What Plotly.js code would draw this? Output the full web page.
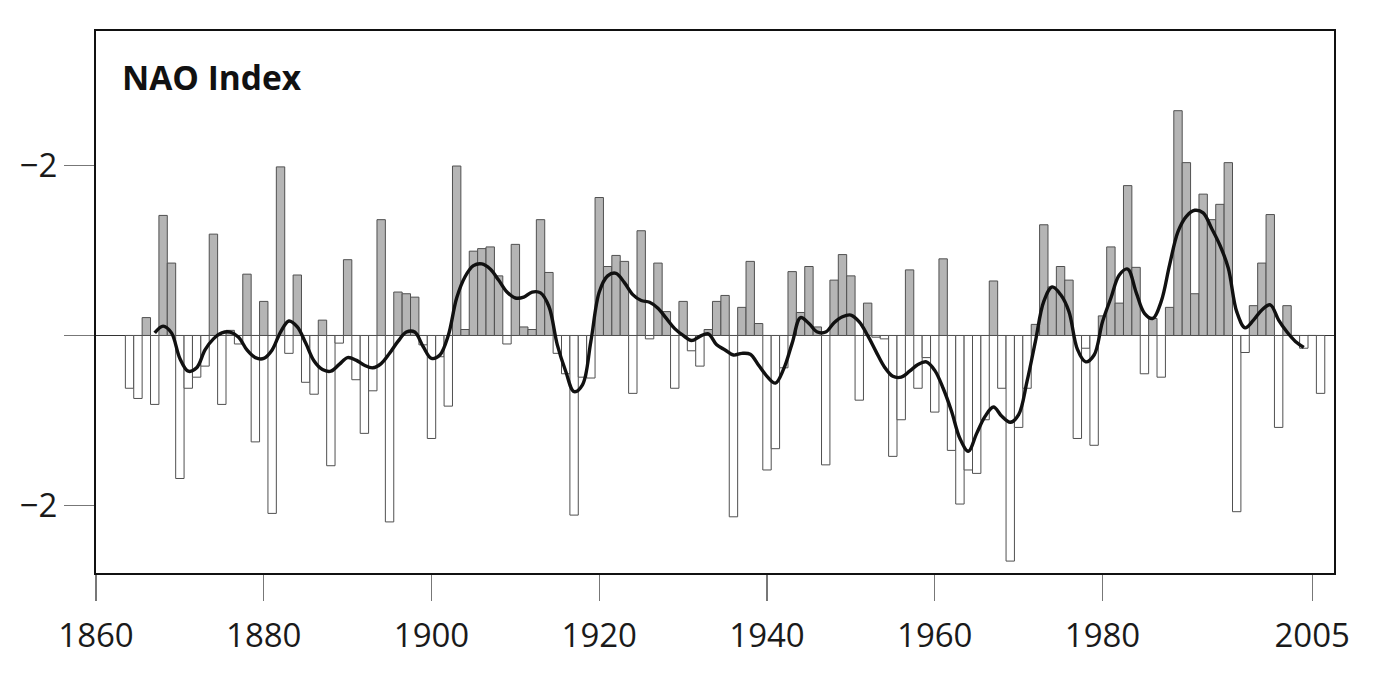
<!DOCTYPE html>
<html>
<head>
<meta charset="utf-8">
<script src="https://cdn.plot.ly/plotly-3.0.1.min.js"></script>
<style>
  html, body { margin: 0; padding: 0; background: #fff; }
  #chart { width: 1376px; height: 678px; }
</style>
</head>
<body>
<div id="chart"></div>
<script>
// Winter NAO index, one bar per year from FIRST_YEAR
const FIRST_YEAR = 1864;
const naoValues = [
  -0.62, -0.74, 0.21, -0.81, 1.41, 0.85, -1.68, -0.62, -0.49, -0.36,   // 1864-1873
  1.19, -0.81, 0.06, -0.10, 0.72, -1.25, 0.40, -2.09, 1.98, -0.21,     // 1874-1883
  0.71, -0.55, -0.69, 0.18, -1.53, -0.09, 0.89, -0.52, -1.15, -0.65,   // 1884-1893
  1.36, -2.19, 0.51, 0.49, 0.45, -0.11, -1.21, -0.25, -0.83, 1.99,     // 1894-1903
  0.07, 0.99, 1.02, 1.04, 0.70, -0.10, 1.07, 0.10, 0.07, 1.36,         // 1904-1913
  0.74, -0.21, -0.45, -2.11, -0.49, -0.50, 1.62, 0.81, 0.94, 0.87,     // 1914-1923
  -0.68, 1.23, -0.04, 0.85, 0.28, -0.62, 0.40, -0.18, -0.36, 0.07,     // 1924-1933
  0.40, 0.47, -2.13, 0.33, 0.87, 0.14, -1.58, -1.33, -0.38, 0.75,      // 1934-1943
  0.27, 0.81, 0.10, -1.52, 0.65, 0.95, 0.70, -0.76, 0.38, -0.02,       // 1944-1953
  -0.04, -1.42, -0.99, 0.77, -0.62, -0.26, -0.90, 0.90, -1.35, -1.98,  // 1954-1963
  -1.58, -1.62, -0.99, 0.64, -0.62, -2.65, -1.08, -0.62, 0.13, 1.30,   // 1964-1973
  0.57, 0.81, 0.65, -1.21, -0.15, -1.29, 0.23, 1.04, 0.38, 1.76,       // 1974-1983
  0.80, -0.45, 0.20, -0.49, 0.33, 2.64, 2.03, 0.49, 1.66, 1.36,        // 1984-1993
  1.54, 2.03, -2.07, -0.20, 0.35, 0.85, 1.42, -1.08, 0.35, 0.00,       // 1994-2003
  -0.15, 0.00, -0.68                                                   // 2004-2006
];
const naoYears = naoValues.map((_, i) => FIRST_YEAR + i);

// Low-pass filtered curve, one point per year from SMOOTH_FIRST_YEAR
const SMOOTH_FIRST_YEAR = 1867;
const smoothValues = [
  0.03, 0.11, 0.03, -0.27, -0.42, -0.38, -0.17, -0.04, 0.03, 0.04,     // 1867-1876
  -0.02, -0.17, -0.26, -0.27, -0.17, 0.04, 0.17, 0.10, -0.09, -0.30,   // 1877-1886
  -0.40, -0.42, -0.34, -0.26, -0.29, -0.35, -0.38, -0.33, -0.21, -0.07,// 1887-1896
  0.04, 0.04, -0.13, -0.27, -0.23, 0.00, 0.44, 0.69, 0.82, 0.84,       // 1897-1906
  0.78, 0.65, 0.51, 0.44, 0.45, 0.51, 0.50, 0.34, -0.11, -0.42,        // 1907-1916
  -0.66, -0.58, -0.07, 0.51, 0.70, 0.73, 0.62, 0.48, 0.41, 0.39,       // 1917-1926
  0.32, 0.20, 0.08, 0.00, -0.06, -0.01, 0.02, -0.11, -0.17, -0.23,     // 1927-1936
  -0.21, -0.22, -0.35, -0.48, -0.56, -0.39, -0.09, 0.21, 0.14, 0.04,   // 1937-1946
  0.04, 0.15, 0.22, 0.24, 0.16, 0.00, -0.19, -0.37, -0.48, -0.49,      // 1947-1956
  -0.42, -0.34, -0.31, -0.41, -0.62, -0.89, -1.21, -1.36, -1.15, -0.95,// 1957-1966
  -0.84, -0.95, -1.02, -0.93, -0.54, -0.07, 0.40, 0.57, 0.48, 0.28,    // 1967-1976
  -0.16, -0.31, -0.23, 0.16, 0.44, 0.71, 0.78, 0.51, 0.26, 0.20,       // 1977-1986
  0.40, 0.83, 1.22, 1.40, 1.47, 1.44, 1.26, 1.06, 0.79, 0.28,          // 1987-1996
  0.09, 0.18, 0.30, 0.36, 0.18, 0.04, -0.07, -0.14                     // 1997-2004
];
const smoothYears = smoothValues.map((_, i) => SMOOTH_FIRST_YEAR + i);

const xTickVals = [1860, 1880, 1900, 1920, 1940, 1960, 1980, 2005];
const xTickText = ['1860', '1880', '1900', '1920', '1940', '1960', '1980', '2005'];
const yTickVals = [-2, 0, 2];
const yTickText = ['\u22122', '', '\u22122'];
const chartTitle = 'NAO Index';

const barColors = naoValues.map(v => v >= 0 ? '#b5b5b5' : '#ffffff');

const traces = [
  {
    type: 'bar',
    x: naoYears,
    y: naoValues,
    width: 1,
    marker: { color: barColors, line: { color: '#505050', width: 1 } },
    hoverinfo: 'skip',
    showlegend: false
  },
  {
    type: 'scatter',
    mode: 'lines',
    x: smoothYears,
    y: smoothValues,
    line: { color: '#111111', width: 3.4, shape: 'spline', smoothing: 1.0 },
    hoverinfo: 'skip',
    showlegend: false
  }
];

const tickFont = { family: '"Open Sans", "Noto Sans", sans-serif', size: 33, color: '#1a1a1a' };

const layout = {
  width: 1376,
  height: 678,
  margin: { l: 96, r: 42, t: 31, b: 105, pad: 0 },
  paper_bgcolor: '#ffffff',
  plot_bgcolor: '#ffffff',
  bargap: 0,
  showlegend: false,
  xaxis: {
    range: [1860, 2007.6],
    tickmode: 'array',
    tickvals: xTickVals,
    ticktext: xTickText,
    ticks: 'outside',
    ticklen: 26,
    tickwidth: 1.2,
    tickcolor: '#777777',
    tickfont: tickFont,
    ticklabelstandoff: 6,
    showline: true,
    mirror: true,
    linecolor: '#111111',
    linewidth: 2,
    showgrid: false,
    zeroline: false,
    fixedrange: true
  },
  yaxis: {
    range: [-2.79, 3.576],
    tickmode: 'array',
    tickvals: yTickVals,
    ticktext: yTickText,
    ticks: 'outside',
    ticklen: 30,
    tickwidth: 1.2,
    tickcolor: '#777777',
    tickfont: tickFont,
    showline: true,
    mirror: true,
    linecolor: '#111111',
    linewidth: 2,
    showgrid: false,
    zeroline: true,
    zerolinecolor: '#333333',
    zerolinewidth: 1,
    fixedrange: true
  },
  annotations: [
    {
      text: '<b>' + chartTitle + '</b>',
      xref: 'paper', yref: 'paper',
      x: 0.019, y: 0.915,
      xanchor: 'left', yanchor: 'middle',
      showarrow: false,
      font: { family: '"Open Sans", "Noto Sans", sans-serif', size: 33.5, color: '#111111' }
    }
  ]
};

Plotly.newPlot('chart', traces, layout, { staticPlot: true, displayModeBar: false });
</script>
</body>
</html>
